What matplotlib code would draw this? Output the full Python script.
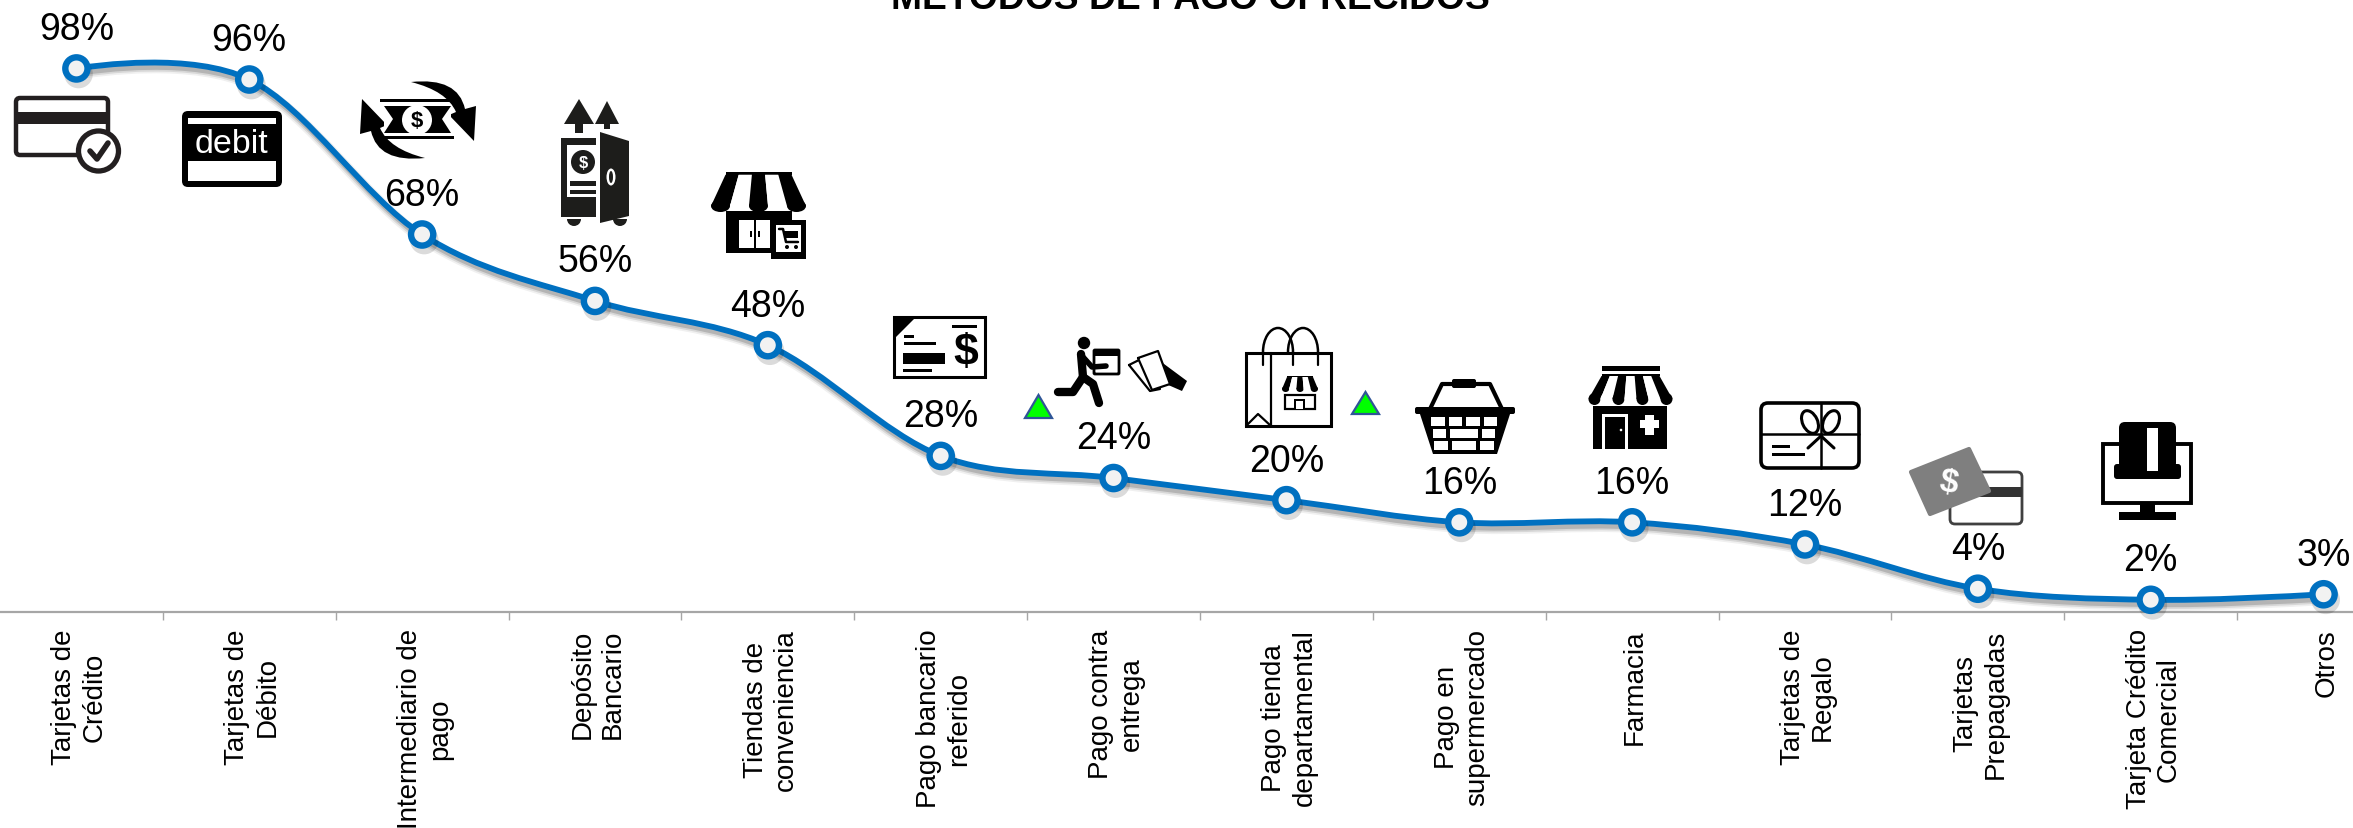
import numpy as np
import matplotlib
matplotlib.use('Agg')
import matplotlib.pyplot as plt
from matplotlib.path import Path
from matplotlib.patches import PathPatch, Polygon, Rectangle, Circle, Ellipse, FancyBboxPatch, Arc, Wedge
from matplotlib.transforms import ScaledTranslation
import matplotlib.patheffects as pe

plt.rcParams['font.family'] = ['Liberation Sans', 'DejaVu Sans']

W, H = 2353, 829

title = 'MÉTODOS DE PAGO OFRECIDOS'
categories = ['Tarjetas de\nCrédito', 'Tarjetas de\nDébito', 'Intermediario de\npago', 'Depósito\nBancario',
              'Tiendas de\nconveniencia', 'Pago bancario\nreferido', 'Pago contra\nentrega',
              'Pago tienda\ndepartamental', 'Pago en\nsupermercado', 'Farmacia', 'Tarjetas de\nRegalo',
              'Tarjetas\nPrepagadas', 'Tarjeta Crédito\nComercial', 'Otros']
values = [98, 96, 68, 56, 48, 28, 24, 20, 16, 16, 12, 4, 2, 3]

BLUE = '#0070c0'
GRAY = '#a6a6a6'

fig = plt.figure(figsize=(W / 100, H / 100), dpi=100)

# the plot area runs past the right edge of the picture, as in the original
left_px, right_px = -10.0, 2410.0
base_px = 612.7
px_per_pct = 5.535
ax = fig.add_axes([left_px / W, (H - base_px) / H, (right_px - left_px) / W, base_px / H])
ax.set_xlim(-0.5, 13.5)
ax.set_ylim(-0.15, base_px / px_per_pct - 0.15)
ax.patch.set_alpha(0)
for s in ['top', 'left', 'right']:
    ax.spines[s].set_visible(False)
ax.spines['bottom'].set_color(GRAY)
ax.spines['bottom'].set_linewidth(1.6)
ax.set_yticks([])
x = np.arange(len(values))
ax.set_xticks(x)
ax.set_xticklabels(categories, rotation=90, ha='center', va='top', multialignment='center',
                   fontsize=20, linespacing=1.22)
ax.tick_params(axis='x', which='major', length=0, pad=12)
ax.set_xticks(x[:-1] + 0.5, minor=True)
ax.tick_params(axis='x', which='minor', length=6, width=1, color=GRAY)
for lab in ax.get_xticklabels():
    lab.set_transform(lab.get_transform() + ScaledTranslation(3 / 100, 0, fig.dpi_scale_trans))

# smoothed line, same idea as the office "smooth line" option
y = np.array(values, dtype=float)
pts = np.column_stack([x, y])
verts = [pts[0]]
codes = [Path.MOVETO]
for i in range(len(pts) - 1):
    if i == 0:
        c2 = pts[1] - (pts[2] - pts[0]) / 6
        c1 = pts[0] + (c2 - pts[0]) / 6
    elif i == len(pts) - 2:
        c1 = pts[i] + (pts[i + 1] - pts[i - 1]) / 6
        c2 = pts[i + 1] - (pts[i + 1] - c1) / 3
    else:
        c1 = pts[i] + (pts[i + 1] - pts[i - 1]) / 6
        c2 = pts[i + 1] - (pts[i + 2] - pts[i]) / 6
    verts += [c1, c2, pts[i + 1]]
    codes += [Path.CURVE4] * 3

shadow = [pe.SimpleLineShadow(offset=(1.5, -3.5), shadow_color='k', alpha=0.06, linewidth=8.5),
          pe.SimpleLineShadow(offset=(1.5, -3.5), shadow_color='k', alpha=0.10, linewidth=6),
          pe.SimpleLineShadow(offset=(1.5, -3.5), shadow_color='k', alpha=0.16, linewidth=3.5),
          pe.Normal()]
ax.add_patch(PathPatch(Path(verts, codes), fill=False, edgecolor=BLUE, linewidth=4.2, clip_on=False,
                       capstyle='round', path_effects=shadow, zorder=3))
ax.plot(x, y, ls='none', marker='o', ms=16, mew=4.6, mec=BLUE, mfc='#f2f2f2', clip_on=False, zorder=4,
        path_effects=[pe.SimpleLineShadow(offset=(1.5, -4), shadow_color='k', alpha=0.14), pe.Normal()])

for xi, v in zip(x, values):
    ax.annotate(f'{v}%', (xi, v), xytext=(0, 28.5), textcoords='offset points', ha='center', va='center',
                fontsize=27, color='k', annotation_clip=False, zorder=5)

# overlay in picture pixels for the title and the pictograms
ov = fig.add_axes([0, 0, 1, 1])
ov.set_xlim(0, W)
ov.set_ylim(H, 0)
ov.axis('off')
ov.patch.set_alpha(0)

ov.text(1190, 9, title, ha='center', va='baseline', fontsize=26.8, fontweight='bold', color='k')


def rect(x0, y0, x1, y1, c='k', **kw):
    ov.add_patch(Rectangle((x0, y0), x1 - x0, y1 - y0, facecolor=c, edgecolor='none', **kw))


def rrect(x0, y0, x1, y1, r, fc='k', ec='none', lw=0):
    ov.add_patch(FancyBboxPatch((x0 + r, y0 + r), x1 - x0 - 2 * r, y1 - y0 - 2 * r,
                                boxstyle=f'round,pad={r},rounding_size={r}', facecolor=fc, edgecolor=ec,
                                linewidth=lw))


def poly(p, c='k', **kw):
    ov.add_patch(Polygon(p, closed=True, facecolor=c, edgecolor='none', **kw))


def line(p, lw=2.0, c='k'):
    p = np.array(p)
    ov.plot(p[:, 0], p[:, 1], color=c, lw=lw, solid_capstyle='round', solid_joinstyle='round')


def awning(xc, top, bot, top_w, bot_w, n, scallop):
    rect(xc - top_w / 2, top, xc + top_w / 2, top + (bot - top) * 0.08)
    for k in range(n):
        a0, a1 = k / n, (k + 1) / n
        tx0 = xc - top_w / 2 + top_w * a0
        tx1 = xc - top_w / 2 + top_w * a1
        bx0 = xc - bot_w / 2 + bot_w * a0
        bx1 = xc - bot_w / 2 + bot_w * a1
        c = 'k' if k % 2 == 0 else 'w'
        t = top + (bot - top) * 0.08
        poly([(tx0, t), (tx1, t), (bx1, bot), (bx0, bot)], c)
        ov.add_patch(Ellipse(((bx0 + bx1) / 2, bot), bx1 - bx0, scallop, facecolor=c, edgecolor='none'))


def swoosh(p):
    cd = [Path.MOVETO, Path.CURVE3, Path.CURVE3, Path.LINETO, Path.LINETO, Path.LINETO, Path.LINETO,
          Path.CURVE3, Path.CURVE3, Path.CLOSEPOLY]
    ov.add_patch(PathPatch(Path(p + [p[0]], cd), facecolor='k', edgecolor='none'))


# credit card with check
rrect(16, 99, 108, 156, 4, fc='w', ec='#231f20', lw=3.2)
rect(15, 113, 109, 125, '#231f20')
ov.add_patch(Circle((98.5, 152), 20, facecolor='w', edgecolor='#231f20', linewidth=3.8))
line([(90, 152), (97, 160), (108, 144)], lw=4, c='#231f20')

# debit card
rrect(182, 112, 282, 188, 6, fc='k')
rect(188, 119, 276, 125, 'w')
rect(188, 162, 276, 182, 'w')
ov.text(231, 144, 'debit', color='w', fontsize=24.5, ha='center', va='center')

# money with two arrows
arrow_a = [(411, 83), (458, 78), (465, 110), (476, 107), (474, 142), (449, 116), (456, 113), (447, 92), (411, 83)]
swoosh(arrow_a)
swoosh([(836 - px, 242 - py) for px, py in arrow_a])
rect(380, 100, 454, 103)
rect(380, 137, 454, 140)
rect(384, 107, 451, 134)
poly([(384, 107), (393, 120), (384, 134)], 'w')
poly([(451, 107), (442, 120), (451, 134)], 'w')
ov.add_patch(Ellipse((417, 121), 30, 30, facecolor='w', edgecolor='none'))
ov.text(417, 121, '$', color='k', fontsize=16, fontweight='bold', ha='center', va='center')

# safe with up arrows
poly([(579, 100), (594, 125), (583, 125), (583, 134), (575, 134), (575, 125), (564, 125)], '#1d1d1b')
poly([(607, 102), (619, 125), (610, 125), (610, 130), (604, 130), (604, 125), (595, 125)], '#1d1d1b')
rect(561, 139, 596, 218, '#1d1d1b')
rect(567, 146, 596, 212, 'w')
rect(567, 139, 596, 145, '#1d1d1b')
ov.add_patch(Circle((583, 163), 12, facecolor='#1d1d1b'))
ov.text(583, 163, '$', color='w', fontsize=12, fontweight='bold', ha='center', va='center')
rect(570, 182, 596, 187, '#1d1d1b')
rect(570, 191, 596, 195, '#1d1d1b')
rect(561, 198, 596, 218, '#1d1d1b')
poly([(600, 133), (629, 142), (629, 217), (600, 224)], '#1d1d1b')
ov.add_patch(Ellipse((611, 178), 9, 17, facecolor='w'))
ov.add_patch(Ellipse((611, 178), 4, 12, facecolor='#1d1d1b'))
ov.add_patch(Wedge((574, 220), 7, 0, 180, facecolor='#1d1d1b'))
ov.add_patch(Wedge((620, 220), 7, 0, 180, facecolor='#1d1d1b'))

# convenience store with cart
awning(758.5, 173, 207, 66, 95, 5, 12)
rect(726, 212, 792, 254)
rect(739, 221, 770, 249, 'w')
rect(754, 221, 756, 249, 'k')
rect(750, 232, 752, 238, 'k')
rect(758, 232, 760, 238, 'k')
rect(771, 221, 806, 260, 'k')
rect(776, 226, 801, 253, 'w')
line([(779, 230), (783, 230), (786, 243), (798, 243)], lw=1.8)
rect(784, 232, 798, 239, 'k')
ov.add_patch(Circle((787, 248), 2, facecolor='k'))
ov.add_patch(Circle((796, 248), 2, facecolor='k'))

# cheque
ov.add_patch(Rectangle((894, 318), 91, 60, facecolor='w', edgecolor='k', linewidth=2.2))
poly([(894, 318), (916, 318), (894, 340)])
rect(952, 326, 977, 328.5)
rect(904, 336, 914, 338.5)
rect(904, 343, 936, 345.5)
rect(903, 354, 945, 365)
rect(903, 370, 932, 373)
ov.text(966, 353, '$', color='k', fontsize=32, fontweight='bold', ha='center', va='center')

# delivery runner and hand with bills
ov.add_patch(Circle((1084, 344), 6.2, facecolor='k'))
line([(1081, 355), (1083, 378), (1093, 385), (1099, 404)], lw=6)
line([(1083, 378), (1073, 393), (1058, 393)], lw=6)
line([(1083, 358), (1092, 368), (1106, 367)], lw=4)
rrect(1094, 351, 1119, 375, 1, fc='w', ec='k', lw=2)
rect(1094, 351, 1119, 357)
poly([(1129, 366), (1147, 357), (1160, 390), (1150, 392)], 'w', zorder=2)
line([(1129, 366), (1147, 357), (1160, 390), (1150, 392), (1129, 366)], lw=1.6)
poly([(1138, 359), (1158, 352), (1170, 385), (1152, 391)], 'w', zorder=2)
line([(1138, 359), (1158, 352), (1170, 385), (1152, 391), (1138, 359)], lw=1.6)
poly([(1160, 362), (1187, 382), (1182, 392), (1166, 385), (1152, 375), (1162, 374)])

# shopping bag
ov.add_patch(Rectangle((1246, 354), 85, 73, facecolor='w', edgecolor='k', linewidth=2.2))
line([(1271, 354), (1271, 427)], lw=1.6)
line([(1246, 427), (1258, 415), (1271, 427)], lw=1.6)
ov.add_patch(Arc((1278, 353), 30, 48, theta1=180, theta2=360, edgecolor='k', linewidth=1.8))
ov.add_patch(Arc((1303, 353), 30, 48, theta1=180, theta2=360, edgecolor='k', linewidth=1.8))
line([(1263, 353), (1263, 366)], lw=1.6)
line([(1293, 353), (1293, 366)], lw=1.6)
line([(1318, 353), (1318, 366)], lw=1.6)
awning(1300, 377, 390, 26, 36, 5, 6)
ov.add_patch(Rectangle((1285, 396), 30, 14, facecolor='w', edgecolor='k', linewidth=1.6))
rect(1294, 400, 1305, 410, 'k')
rect(1296, 402, 1303, 410, 'w')

# green triangles
for p in ([(1038.5, 396), (1052, 419), (1025, 419)], [(1365.5, 393), (1379, 415), (1352, 415)]):
    ov.add_patch(Polygon(p, closed=True, facecolor='#00ff00', edgecolor='#2f5597', linewidth=1.6))

# basket
ov.add_patch(FancyBboxPatch((1454, 382), 20, 5, boxstyle='round,pad=2,rounding_size=2', facecolor='k', edgecolor='none'))
line([(1430, 410), (1442, 385), (1490, 385), (1502, 410)], lw=3)
rrect(1415, 408, 1515, 415, 2)
poly([(1419, 412), (1511, 412), (1497, 455), (1433, 455)])
for gx in np.arange(1431, 1497, 17.5):
    for gy in (418, 430, 442):
        dx = (gy - 418) * 0.13 * (1 if gx < 1465 else -1)
        rect(gx + dx, gy, gx + dx + 13.5, gy + 9, 'w')

# pharmacy
rect(1602, 367, 1660, 372)
awning(1630.5, 375, 400, 58, 84, 7, 12)
rect(1593, 407, 1667, 450)
rect(1602, 415, 1628, 450, 'w')
rect(1605, 418, 1625, 450, 'k')
ov.add_patch(Circle((1621, 431), 1.3, facecolor='w'))
rect(1640, 421, 1659, 429, 'w')
rect(1645, 416, 1654, 436, 'w')

# gift card
rrect(1761, 404, 1859, 469, 7, fc='w', ec='k', lw=2.6)
line([(1761, 435), (1859, 435)], lw=1.8)
line([(1821, 404), (1821, 469)], lw=1.8)
ov.add_patch(Ellipse((1810, 423), 15, 24, angle=-25, facecolor='w', edgecolor='k', linewidth=2.2))
ov.add_patch(Ellipse((1831, 423), 15, 24, angle=25, facecolor='w', edgecolor='k', linewidth=2.2))
line([(1821, 437), (1808, 449)], lw=2.2)
line([(1821, 437), (1834, 449)], lw=2.2)
rect(1772, 446, 1790, 449)
rect(1772, 454, 1805, 457)

# prepaid cards
rrect(1950, 473, 2022, 525, 5, fc='w', ec='#404040', lw=2)
rect(1950, 488, 2022, 498, '#333333')
ov.add_patch(Polygon([(1911, 473), (1969, 450), (1989, 492), (1930, 515)], closed=True, facecolor='#7f7f7f',
                     edgecolor='#7f7f7f', linewidth=3, joinstyle='round'))
ov.text(1949, 483, '$', color='w', fontsize=24, fontweight='bold', ha='center', va='center', rotation=-10)

# terminal on monitor
ov.add_patch(Rectangle((2103, 445), 88, 59, facecolor='w', edgecolor='k', linewidth=2.8))
rect(2140, 505, 2155, 514)
rect(2119, 513, 2176, 521)
rrect(2119, 423, 2176, 470, 6)
rrect(2114, 465, 2181, 480, 3)
rect(2147, 429, 2158, 472, 'w')

fig.savefig('out.png', dpi=100)
